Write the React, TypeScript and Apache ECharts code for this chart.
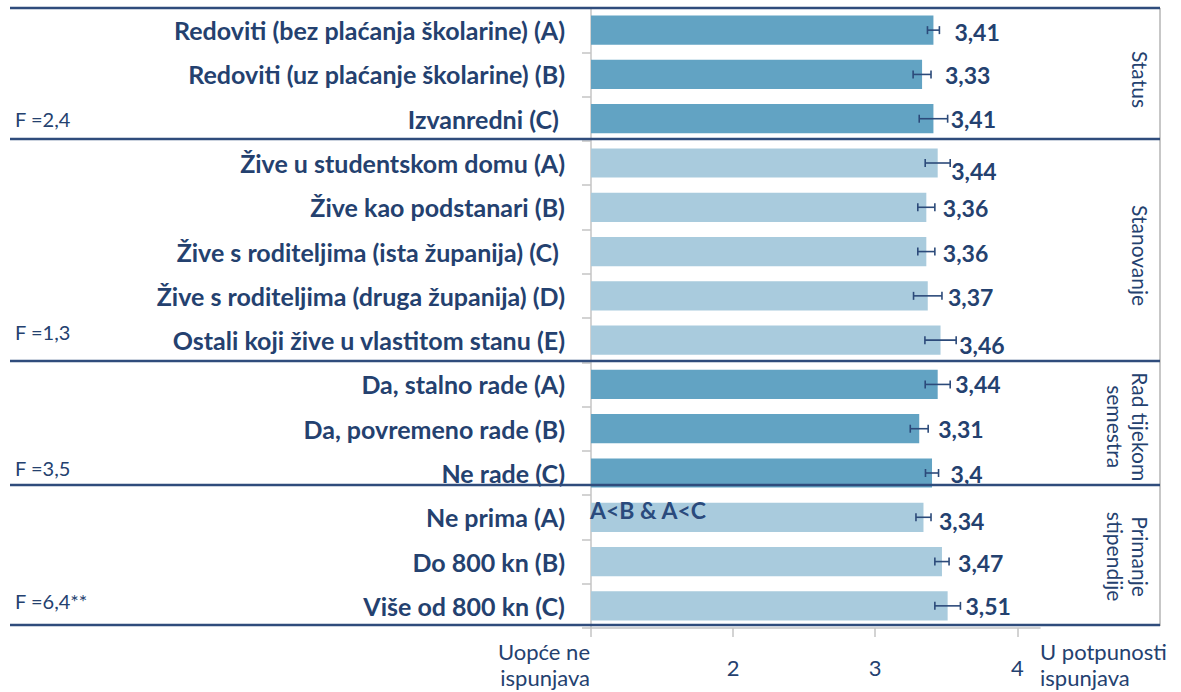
import React, { useEffect, useRef } from "react";
import * as echarts from "echarts";

// ---------- data ----------
const categories = [
  "Redoviti (bez plaćanja školarine) (A)",
  "Redoviti (uz plaćanje školarine) (B)",
  "Izvanredni (C) ",
  "Žive u studentskom domu (A)",
  "Žive kao podstanari (B)",
  "Žive s roditeljima (ista županija) (C) ",
  "Žive s roditeljima (druga županija) (D)",
  "Ostali koji žive u vlastitom stanu (E)",
  "Da, stalno rade (A)",
  "Da, povremeno rade (B)",
  "Ne rade (C)",
  "Ne prima (A)",
  "Do 800 kn (B)",
  "Više od 800 kn (C)",
];
const means = [3.41, 3.33, 3.41, 3.44, 3.36, 3.36, 3.37, 3.46, 3.44, 3.31, 3.4, 3.34, 3.47, 3.51];
const errors = [0.042, 0.063, 0.1, 0.088, 0.06, 0.06, 0.1, 0.11, 0.088, 0.063, 0.046, 0.053, 0.05, 0.09];
const groupOfRow = [0, 0, 0, 1, 1, 1, 1, 1, 2, 2, 2, 3, 3, 3];
const groupNames = ["Status", "Stanovanje", "Rad tijekom\nsemestra", "Primanje\nstipendije"];
const groupFirst = [0, 3, 8, 11];
const groupLast = [2, 7, 10, 13];
const fStats = ["F =2,4", "F =1,3", "F =3,5", "F =6,4**"];
const note = "A<B & A<C";
const noteRow = 11;
const xMin = 1;
const xMax = 4.16;
const xTicks = [1, 2, 3, 4];
const xTickLabels = ["", "2", "3", "4"];
const xEndLabels = ["Uopće ne\nispunjava", "U potpunosti\nispunjava"];

// ---------- styles ----------
const groupColors = ["#62a3c3", "#a9cbdd", "#62a3c3", "#a9cbdd"];
const labelDx = [15, 14, 3, 1, 8, 8, 6, 3, 5, 10, 12, 8, 9, 5];
const labelDy = [2, 1, 0, 8, 1, 1, 1, 5, 0, 0, 1, 4, 1, 0];
const fDy = [0, -8, -5, -5];
const groupDy = [5, 4, -2, -5];
const sepY = [8, 139, 361, 485, 625];
const navy = "#24416f";
const FONT = "Lato, 'Open Sans', sans-serif";

export default function App() {
  const ref = useRef<HTMLDivElement>(null);
  useEffect(() => {
    const chart = echarts.init(ref.current!, null, { renderer: "svg" });
    const errData = means.map((m, i) => [m, errors[i], i]);
    chart.setOption({
      animation: false,
      grid: { left: 591, right: 1181 - 1040, top: 8, bottom: 64 },
      xAxis: {
        type: "value",
        min: xMin,
        max: xMax,
        splitLine: { show: false },
        axisLine: { show: true, lineStyle: { color: "#c4c4c4", width: 1.5 } },
        axisTick: { show: true, customValues: xTicks, length: 9, lineStyle: { color: "#c4c4c4", width: 1.5 } },
        axisLabel: {
          customValues: xTicks,
          margin: 28,
          fontFamily: FONT,
          fontSize: 22,
          color: navy,
          formatter: (v: number) => xTickLabels[xTicks.indexOf(v)] ?? "",
        },
      },
      yAxis: {
        type: "category",
        inverse: true,
        data: categories,
        axisLine: { show: true, lineStyle: { color: "#c4c4c4", width: 1.5 } },
        axisTick: { show: true, length: 9, lineStyle: { color: "#c4c4c4", width: 1.5 } },
        axisLabel: {
          margin: 26,
          fontFamily: FONT,
          fontWeight: "bold",
          fontSize: 25,
          color: navy,
        },
      },
      series: [
        {
          type: "bar",
          data: means,
          barCategoryGap: "34%",
          itemStyle: {
            color: (p: any) => groupColors[groupOfRow[p.dataIndex]],
          },
        },
        {
          type: "custom",
          data: errData,
          encode: { x: 0, y: 2 },
          z: 5,
          renderItem: (params: any, api: any) => {
            const i = params.dataIndex;
            const m = api.value(0);
            const e = api.value(1);
            const c = api.value(2);
            const lo = api.coord([m - e, c]);
            const hi = api.coord([m + e, c]);
            const cap = 4;
            const ls = { stroke: "#2c4a7a", lineWidth: 1.6 };
            return {
              type: "group",
              children: [
                { type: "line", shape: { x1: lo[0], y1: lo[1], x2: hi[0], y2: hi[1] }, style: ls },
                { type: "line", shape: { x1: lo[0], y1: lo[1] - cap, x2: lo[0], y2: lo[1] + cap }, style: ls },
                { type: "line", shape: { x1: hi[0], y1: hi[1] - cap, x2: hi[0], y2: hi[1] + cap }, style: ls },
                {
                  type: "text",
                  style: {
                    text: String(m).replace(".", ","),
                    x: hi[0] + labelDx[i],
                    y: hi[1] + labelDy[i],
                    fill: navy,
                    font: `bold 23px ${FONT}`,
                    textAlign: "left",
                    textVerticalAlign: "middle",
                  },
                },
              ],
            };
          },
        },
      ],
    });

    const px = (v: number) => chart.convertToPixel({ xAxisIndex: 0 }, v) as number;
    const py = (c: number) => chart.convertToPixel({ yAxisIndex: 0 }, c) as number;
    const graphic: any[] = [];
    sepY.forEach((y) => {
      graphic.push({
        type: "line",
        shape: { x1: 10, y1: y, x2: 1160, y2: y },
        style: { stroke: "#2f4c7c", lineWidth: 2.5 },
        z: 10,
      });
    });
    graphic.push({
      type: "line",
      shape: { x1: 1160, y1: 8, x2: 1160, y2: 626 },
      style: { stroke: "#b5b5b5", lineWidth: 1.5 },
      z: 9,
    });
    groupNames.forEach((g, k) => {
      const yc = (py(groupFirst[k]) + py(groupLast[k])) / 2 + groupDy[k];
      graphic.push({
        type: "text",
        x: 1153,
        y: yc,
        rotation: -Math.PI / 2,
        style: {
          text: g,
          fill: navy,
          font: `21px ${FONT}`,
          textAlign: "center",
          textVerticalAlign: "top",
          lineHeight: 25,
        },
        z: 10,
      });
      graphic.push({
        type: "text",
        x: 15,
        y: py(groupLast[k]) + fDy[k],
        style: {
          text: fStats[k],
          fill: navy,
          font: `20px ${FONT}`,
          textAlign: "left",
          textVerticalAlign: "middle",
        },
        z: 10,
      });
    });
    graphic.push({
      type: "text",
      x: px(xMin) - 1,
      y: py(noteRow) - 7,
      style: {
        text: note,
        fill: "#2a4a7c",
        font: `bold 23px ${FONT}`,
        textAlign: "left",
        textVerticalAlign: "middle",
      },
      z: 10,
    });
    graphic.push({
      type: "text",
      x: px(xMin) - 1,
      y: 664,
      style: {
        text: xEndLabels[0],
        fill: navy,
        font: `22px ${FONT}`,
        textAlign: "right",
        textVerticalAlign: "middle",
        lineHeight: 26,
      },
    });
    graphic.push({
      type: "text",
      x: px(xMax),
      y: 664,
      style: {
        text: xEndLabels[1],
        fill: navy,
        font: `22px ${FONT}`,
        textAlign: "left",
        textVerticalAlign: "middle",
        lineHeight: 26,
      },
    });
    chart.setOption({ graphic });
    return () => chart.dispose();
  }, []);
  return (
    <div
      ref={ref}
      style={{ position: "fixed", left: 0, top: 0, width: 1181, height: 692, background: "#fff" }}
    />
  );
}
